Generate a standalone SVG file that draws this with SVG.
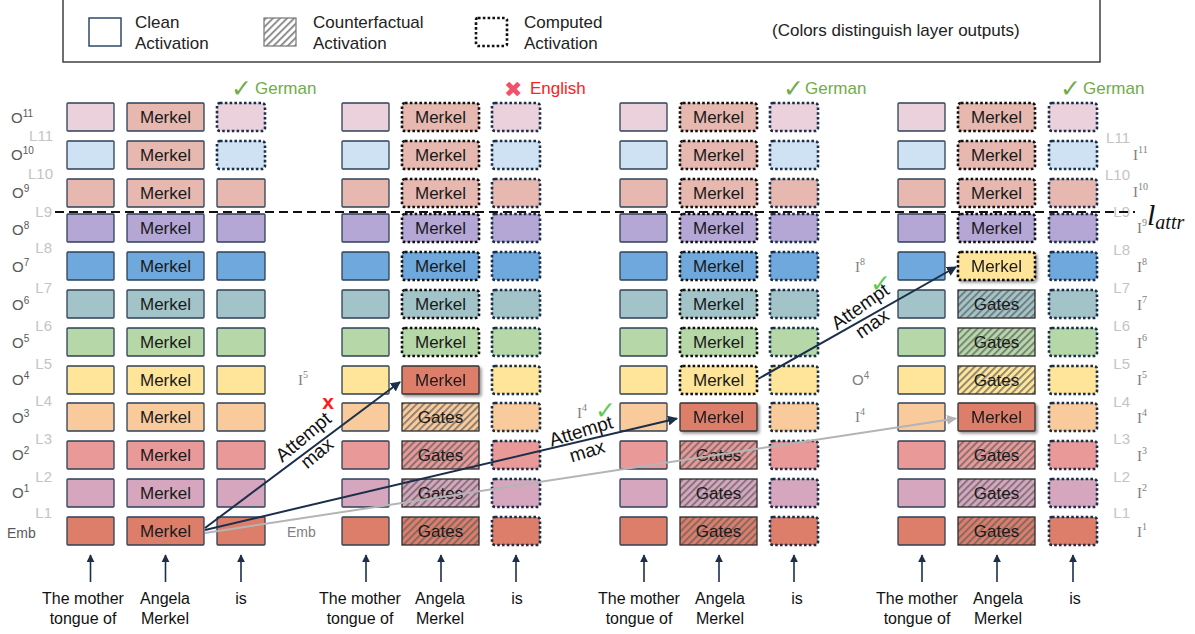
<svg xmlns="http://www.w3.org/2000/svg" width="1195" height="634" viewBox="0 0 1195 634">
<defs>
<style>
text{font-family:"Liberation Sans",Arial,sans-serif}
.cl{stroke:#2e4057;stroke-width:1.3}
.dn{stroke:#1b2f4a;stroke-width:2.6;stroke-dasharray:2.6 2.2}
.dk{stroke:#111;stroke-width:2.6;stroke-dasharray:2.6 2.2}
.hb{fill:url(#hatch);stroke:#2b2b2b;stroke-width:1.3}
.pt{stroke:#333;stroke-width:1.3}
.sh{filter:url(#sh)}
.f0{fill:#ead1dc}.f1{fill:#cfe2f3}.f2{fill:#e6b8af}.f3{fill:#b4a7d6}.f4{fill:#6fa8dc}.f5{fill:#a2c4c9}.f6{fill:#b6d7a8}.f7{fill:#ffe599}.f8{fill:#f9cb9c}.f9{fill:#ea9999}.f10{fill:#d5a6bd}.f11{fill:#dd7e6b}
.m{font-size:17px;fill:#1a1a1a;text-anchor:middle}
.ol{font-size:15px;fill:#595959}
.ll{font-size:15px;fill:#c4c4c4;text-anchor:end}
.il{font-family:"Liberation Serif","Times New Roman",serif;font-size:15px;fill:#808080}
.sup{font-size:10px}
.bl{font-size:16px;fill:#111;text-anchor:middle}
.lg{font-size:17px;fill:#222}
.at{font-size:19px;fill:#111;text-anchor:middle}
.nv{stroke:#1b2f4a;stroke-width:2;fill:none}
.gr{stroke:#b4b4b4;stroke-width:2;fill:none}
.up{stroke:#1b2f4a;stroke-width:1.6;fill:none}
.ck{font-family:"DejaVu Sans",sans-serif;font-size:25px}
</style>
<pattern id="hatch" width="5" height="5" patternUnits="userSpaceOnUse" patternTransform="rotate(45)">
<rect width="1.8" height="5" fill="#5f5f5f" opacity="0.75"/>
</pattern>
<filter id="sh" x="-20%" y="-30%" width="150%" height="170%">
<feDropShadow dx="2" dy="2" stdDeviation="1.6" flood-color="#000" flood-opacity="0.4"/>
</filter>
<marker id="an" viewBox="0 0 10 10" refX="9" refY="5" markerWidth="5" markerHeight="5" orient="auto"><path d="M0,0 L10,5 L0,10 z" fill="#1b2f4a"/></marker>
<marker id="ag" viewBox="0 0 10 10" refX="9" refY="5" markerWidth="5" markerHeight="5" orient="auto"><path d="M0,0 L10,5 L0,10 z" fill="#b4b4b4"/></marker>
</defs>
<rect width="1195" height="634" fill="#fff"/>

<g id="legend">
<rect x="63" y="-2" width="1037" height="64" fill="#fff" stroke="#404040" stroke-width="1.5"/>
<rect x="89" y="18" width="32" height="28" fill="#fff" stroke="#2e4a6a" stroke-width="1.5"/>
<text class="lg" x="135" y="28">Clean</text>
<text class="lg" x="135" y="49">Activation</text>
<rect x="264" y="18" width="32" height="28" fill="url(#hatch)" stroke="#7f7f7f" stroke-width="1.3"/>
<text class="lg" x="313" y="28">Counterfactual</text>
<text class="lg" x="313" y="49">Activation</text>
<rect x="476" y="18" width="31" height="28" rx="2" fill="#fff" class="dk"/>
<text class="lg" x="524" y="28">Computed</text>
<text class="lg" x="524" y="49">Activation</text>
<text class="lg" x="772" y="36">(Colors distinguish layer outputs)</text>
</g>

<g id="labels-left">
<text class="ol" x="11" y="123">O<tspan class="sup" dy="-6">11</tspan></text>
<text class="ol" x="11" y="160">O<tspan class="sup" dy="-6">10</tspan></text>
<text class="ol" x="12" y="198">O<tspan class="sup" dy="-6">9</tspan></text>
<text class="ol" x="12" y="235">O<tspan class="sup" dy="-6">8</tspan></text>
<text class="ol" x="12" y="272">O<tspan class="sup" dy="-6">7</tspan></text>
<text class="ol" x="12" y="310">O<tspan class="sup" dy="-6">6</tspan></text>
<text class="ol" x="12" y="348">O<tspan class="sup" dy="-6">5</tspan></text>
<text class="ol" x="12" y="385">O<tspan class="sup" dy="-6">4</tspan></text>
<text class="ol" x="12" y="423">O<tspan class="sup" dy="-6">3</tspan></text>
<text class="ol" x="12" y="460">O<tspan class="sup" dy="-6">2</tspan></text>
<text class="ol" x="12" y="498">O<tspan class="sup" dy="-6">1</tspan></text>
<text class="ol" x="7" y="538" style="font-size:14px">Emb</text>
<text class="ll" x="53" y="141">L11</text>
<text class="ll" x="53" y="179">L10</text>
<text class="ll" x="52" y="217">L9</text>
<text class="ll" x="52" y="253">L8</text>
<text class="ll" x="52" y="293">L7</text>
<text class="ll" x="52" y="331">L6</text>
<text class="ll" x="52" y="369">L5</text>
<text class="ll" x="52" y="406">L4</text>
<text class="ll" x="52" y="444">L3</text>
<text class="ll" x="52" y="482">L2</text>
<text class="ll" x="52" y="518">L1</text>
</g>

<g id="labels-right">
<text class="ll" x="1130" y="143">L11</text>
<text class="ll" x="1130" y="180">L10</text>
<text class="ll" x="1130" y="217">L9</text>
<text class="ll" x="1130" y="255">L8</text>
<text class="ll" x="1130" y="293">L7</text>
<text class="ll" x="1130" y="331">L6</text>
<text class="ll" x="1130" y="369">L5</text>
<text class="ll" x="1130" y="407">L4</text>
<text class="ll" x="1130" y="444">L3</text>
<text class="ll" x="1130" y="482">L2</text>
<text class="ll" x="1130" y="518">L1</text>
<text class="il" x="1133" y="160">I<tspan class="sup" dy="-7">11</tspan></text>
<text class="il" x="1133" y="197">I<tspan class="sup" dy="-7">10</tspan></text>
<text class="il" x="1137" y="233">I<tspan class="sup" dy="-7">9</tspan></text>
<text class="il" x="1137" y="272">I<tspan class="sup" dy="-7">8</tspan></text>
<text class="il" x="1137" y="310">I<tspan class="sup" dy="-7">7</tspan></text>
<text class="il" x="1137" y="348">I<tspan class="sup" dy="-7">6</tspan></text>
<text class="il" x="1137" y="385">I<tspan class="sup" dy="-7">5</tspan></text>
<text class="il" x="1137" y="423">I<tspan class="sup" dy="-7">4</tspan></text>
<text class="il" x="1137" y="461">I<tspan class="sup" dy="-7">3</tspan></text>
<text class="il" x="1137" y="498">I<tspan class="sup" dy="-7">2</tspan></text>
<text class="il" x="1137" y="537">I<tspan class="sup" dy="-7">1</tspan></text>
<text x="1147" y="225" style="font-family:'Liberation Serif',serif;font-style:italic;font-size:30px;fill:#111">l<tspan style="font-size:20px" dy="4">attr</tspan></text>
</g>

<g id="labels-mid">
<text class="il" x="298" y="385">I<tspan class="sup" dy="-7">5</tspan></text>
<text class="ol" x="287" y="537" style="font-size:14px;fill:#808080">Emb</text>
<text class="il" x="577" y="418">I<tspan class="sup" dy="-7">4</tspan></text>
<text class="il" x="855" y="272">I<tspan class="sup" dy="-7">8</tspan></text>
<text class="ol" x="852" y="385" style="fill:#808080">O<tspan class="sup" dy="-6">4</tspan></text>
<text class="il" x="855" y="422">I<tspan class="sup" dy="-7">4</tspan></text>
<text x="328" y="409" style="font-size:21px;font-weight:bold;fill:#ff1a1a;text-anchor:middle">x</text>
<text class="ck" x="595" y="419" style="fill:#5ecb55">✓</text>
<text class="ck" x="870" y="292" style="fill:#5ecb55">✓</text>
</g>

<g id="headers">
<text class="ck" x="231" y="97" style="fill:#70ad47">✓</text>
<text x="255" y="94" style="font-size:17px;fill:#70ad47">German</text>
<text x="504" y="97" style="font-family:'DejaVu Sans',sans-serif;font-size:22px;fill:#f0506a">✖</text>
<text x="530" y="94" style="font-size:17px;fill:#ff2020">English</text>
<text class="ck" x="783" y="97" style="fill:#70ad47">✓</text>
<text x="805" y="94" style="font-size:17px;fill:#70ad47">German</text>
<text class="ck" x="1060" y="97" style="fill:#70ad47">✓</text>
<text x="1083" y="94" style="font-size:17px;fill:#70ad47">German</text>
</g>

<g id="panel1">
<g id="p1-c1-0"><rect class="f0 cl" x="67" y="103" width="47" height="28" rx="1"/></g>
<g id="p1-c1-1"><rect class="f1 cl" x="67" y="141" width="47" height="28" rx="1"/></g>
<g id="p1-c1-2"><rect class="f2 cl" x="67" y="179" width="47" height="28" rx="1"/></g>
<g id="p1-c1-3"><rect class="f3 cl" x="67" y="214" width="47" height="28" rx="1"/></g>
<g id="p1-c1-4"><rect class="f4 cl" x="67" y="252" width="47" height="28" rx="1"/></g>
<g id="p1-c1-5"><rect class="f5 cl" x="67" y="290" width="47" height="28" rx="1"/></g>
<g id="p1-c1-6"><rect class="f6 cl" x="67" y="328" width="47" height="28" rx="1"/></g>
<g id="p1-c1-7"><rect class="f7 cl" x="67" y="366" width="47" height="28" rx="1"/></g>
<g id="p1-c1-8"><rect class="f8 cl" x="67" y="403" width="47" height="28" rx="1"/></g>
<g id="p1-c1-9"><rect class="f9 cl" x="67" y="441" width="47" height="28" rx="1"/></g>
<g id="p1-c1-10"><rect class="f10 cl" x="67" y="479" width="47" height="28" rx="1"/></g>
<g id="p1-c1-11"><rect class="f11 cl" x="67" y="517" width="47" height="28" rx="1"/></g>
<g id="p1-c2-0"><rect class="f2 cl" x="127" y="103" width="77" height="28" rx="1"/><text class="m" x="165.5" y="123">Merkel</text></g>
<g id="p1-c2-1"><rect class="f2 cl" x="127" y="141" width="77" height="28" rx="1"/><text class="m" x="165.5" y="161">Merkel</text></g>
<g id="p1-c2-2"><rect class="f2 cl" x="127" y="179" width="77" height="28" rx="1"/><text class="m" x="165.5" y="199">Merkel</text></g>
<g id="p1-c2-3"><rect class="f3 cl" x="127" y="214" width="77" height="28" rx="1"/><text class="m" x="165.5" y="234">Merkel</text></g>
<g id="p1-c2-4"><rect class="f4 cl" x="127" y="252" width="77" height="28" rx="1"/><text class="m" x="165.5" y="272">Merkel</text></g>
<g id="p1-c2-5"><rect class="f5 cl" x="127" y="290" width="77" height="28" rx="1"/><text class="m" x="165.5" y="310">Merkel</text></g>
<g id="p1-c2-6"><rect class="f6 cl" x="127" y="328" width="77" height="28" rx="1"/><text class="m" x="165.5" y="348">Merkel</text></g>
<g id="p1-c2-7"><rect class="f7 cl" x="127" y="366" width="77" height="28" rx="1"/><text class="m" x="165.5" y="386">Merkel</text></g>
<g id="p1-c2-8"><rect class="f8 cl" x="127" y="403" width="77" height="28" rx="1"/><text class="m" x="165.5" y="423">Merkel</text></g>
<g id="p1-c2-9"><rect class="f9 cl" x="127" y="441" width="77" height="28" rx="1"/><text class="m" x="165.5" y="461">Merkel</text></g>
<g id="p1-c2-10"><rect class="f10 cl" x="127" y="479" width="77" height="28" rx="1"/><text class="m" x="165.5" y="499">Merkel</text></g>
<g id="p1-c2-11"><rect class="f11 cl" x="127" y="517" width="77" height="28" rx="1"/><text class="m" x="165.5" y="537">Merkel</text></g>
<g id="p1-c3-0"><rect class="f0 dn" x="217" y="103" width="48" height="28" rx="3"/></g>
<g id="p1-c3-1"><rect class="f1 dn" x="217" y="141" width="48" height="28" rx="3"/></g>
<g id="p1-c3-2"><rect class="f2 cl" x="217" y="179" width="48" height="28" rx="1"/></g>
<g id="p1-c3-3"><rect class="f3 cl" x="217" y="214" width="48" height="28" rx="1"/></g>
<g id="p1-c3-4"><rect class="f4 cl" x="217" y="252" width="48" height="28" rx="1"/></g>
<g id="p1-c3-5"><rect class="f5 cl" x="217" y="290" width="48" height="28" rx="1"/></g>
<g id="p1-c3-6"><rect class="f6 cl" x="217" y="328" width="48" height="28" rx="1"/></g>
<g id="p1-c3-7"><rect class="f7 cl" x="217" y="366" width="48" height="28" rx="1"/></g>
<g id="p1-c3-8"><rect class="f8 cl" x="217" y="403" width="48" height="28" rx="1"/></g>
<g id="p1-c3-9"><rect class="f9 cl" x="217" y="441" width="48" height="28" rx="1"/></g>
<g id="p1-c3-10"><rect class="f10 cl" x="217" y="479" width="48" height="28" rx="1"/></g>
<g id="p1-c3-11"><rect class="f11 cl" x="217" y="517" width="48" height="28" rx="1"/></g>
</g>

<g id="panel2" transform="translate(275,0)">
<g id="p2-c1-0"><rect class="f0 cl" x="67" y="103" width="47" height="28" rx="1"/></g>
<g id="p2-c1-1"><rect class="f1 cl" x="67" y="141" width="47" height="28" rx="1"/></g>
<g id="p2-c1-2"><rect class="f2 cl" x="67" y="179" width="47" height="28" rx="1"/></g>
<g id="p2-c1-3"><rect class="f3 cl" x="67" y="214" width="47" height="28" rx="1"/></g>
<g id="p2-c1-4"><rect class="f4 cl" x="67" y="252" width="47" height="28" rx="1"/></g>
<g id="p2-c1-5"><rect class="f5 cl" x="67" y="290" width="47" height="28" rx="1"/></g>
<g id="p2-c1-6"><rect class="f6 cl" x="67" y="328" width="47" height="28" rx="1"/></g>
<g id="p2-c1-7"><rect class="f7 cl" x="67" y="366" width="47" height="28" rx="1"/></g>
<g id="p2-c1-8"><rect class="f8 cl" x="67" y="403" width="47" height="28" rx="1"/></g>
<g id="p2-c1-9"><rect class="f9 cl" x="67" y="441" width="47" height="28" rx="1"/></g>
<g id="p2-c1-10"><rect class="f10 cl" x="67" y="479" width="47" height="28" rx="1"/></g>
<g id="p2-c1-11"><rect class="f11 cl" x="67" y="517" width="47" height="28" rx="1"/></g>
<g id="p2-c2-0"><rect class="f2 dk" x="127" y="103" width="77" height="28" rx="3"/><text class="m" x="165.5" y="123">Merkel</text></g>
<g id="p2-c2-1"><rect class="f2 dk" x="127" y="141" width="77" height="28" rx="3"/><text class="m" x="165.5" y="161">Merkel</text></g>
<g id="p2-c2-2"><rect class="f2 dk" x="127" y="179" width="77" height="28" rx="3"/><text class="m" x="165.5" y="199">Merkel</text></g>
<g id="p2-c2-3"><rect class="f3 dk" x="127" y="214" width="77" height="28" rx="3"/><text class="m" x="165.5" y="234">Merkel</text></g>
<g id="p2-c2-4"><rect class="f4 dk" x="127" y="252" width="77" height="28" rx="3"/><text class="m" x="165.5" y="272">Merkel</text></g>
<g id="p2-c2-5"><rect class="f5 dk" x="127" y="290" width="77" height="28" rx="3"/><text class="m" x="165.5" y="310">Merkel</text></g>
<g id="p2-c2-6"><rect class="f6 dk" x="127" y="328" width="77" height="28" rx="3"/><text class="m" x="165.5" y="348">Merkel</text></g>
<g id="p2-c2-7" class="sh"><rect class="f11 pt" x="127" y="366" width="77" height="28" rx="1"/><text class="m" x="165.5" y="386">Merkel</text></g>
<g id="p2-c2-8"><rect class="f8" x="127" y="403" width="77" height="28"/><rect class="hb" x="127" y="403" width="77" height="28"/><text class="m" x="165.5" y="423">Gates</text></g>
<g id="p2-c2-9"><rect class="f9" x="127" y="441" width="77" height="28"/><rect class="hb" x="127" y="441" width="77" height="28"/><text class="m" x="165.5" y="461">Gates</text></g>
<g id="p2-c2-10"><rect class="f10" x="127" y="479" width="77" height="28"/><rect class="hb" x="127" y="479" width="77" height="28"/><text class="m" x="165.5" y="499">Gates</text></g>
<g id="p2-c2-11"><rect class="f11" x="127" y="517" width="77" height="28"/><rect class="hb" x="127" y="517" width="77" height="28"/><text class="m" x="165.5" y="537">Gates</text></g>
<g id="p2-c3-0"><rect class="f0 dn" x="217" y="103" width="48" height="28" rx="3"/></g>
<g id="p2-c3-1"><rect class="f1 dn" x="217" y="141" width="48" height="28" rx="3"/></g>
<g id="p2-c3-2"><rect class="f2 dn" x="217" y="179" width="48" height="28" rx="3"/></g>
<g id="p2-c3-3"><rect class="f3 dn" x="217" y="214" width="48" height="28" rx="3"/></g>
<g id="p2-c3-4"><rect class="f4 dn" x="217" y="252" width="48" height="28" rx="3"/></g>
<g id="p2-c3-5"><rect class="f5 dn" x="217" y="290" width="48" height="28" rx="3"/></g>
<g id="p2-c3-6"><rect class="f6 dn" x="217" y="328" width="48" height="28" rx="3"/></g>
<g id="p2-c3-7"><rect class="f7 dn" x="217" y="366" width="48" height="28" rx="3"/></g>
<g id="p2-c3-8"><rect class="f8 dn" x="217" y="403" width="48" height="28" rx="3"/></g>
<g id="p2-c3-9"><rect class="f9 dn" x="217" y="441" width="48" height="28" rx="3"/></g>
<g id="p2-c3-10"><rect class="f10 dn" x="217" y="479" width="48" height="28" rx="3"/></g>
<g id="p2-c3-11"><rect class="f11 dn" x="217" y="517" width="48" height="28" rx="3"/></g>
</g>

<g id="panel3" transform="translate(553,0)">
<g id="p3-c1-0"><rect class="f0 cl" x="67" y="103" width="47" height="28" rx="1"/></g>
<g id="p3-c1-1"><rect class="f1 cl" x="67" y="141" width="47" height="28" rx="1"/></g>
<g id="p3-c1-2"><rect class="f2 cl" x="67" y="179" width="47" height="28" rx="1"/></g>
<g id="p3-c1-3"><rect class="f3 cl" x="67" y="214" width="47" height="28" rx="1"/></g>
<g id="p3-c1-4"><rect class="f4 cl" x="67" y="252" width="47" height="28" rx="1"/></g>
<g id="p3-c1-5"><rect class="f5 cl" x="67" y="290" width="47" height="28" rx="1"/></g>
<g id="p3-c1-6"><rect class="f6 cl" x="67" y="328" width="47" height="28" rx="1"/></g>
<g id="p3-c1-7"><rect class="f7 cl" x="67" y="366" width="47" height="28" rx="1"/></g>
<g id="p3-c1-8"><rect class="f8 cl" x="67" y="403" width="47" height="28" rx="1"/></g>
<g id="p3-c1-9"><rect class="f9 cl" x="67" y="441" width="47" height="28" rx="1"/></g>
<g id="p3-c1-10"><rect class="f10 cl" x="67" y="479" width="47" height="28" rx="1"/></g>
<g id="p3-c1-11"><rect class="f11 cl" x="67" y="517" width="47" height="28" rx="1"/></g>
<g id="p3-c2-0"><rect class="f2 dk" x="127" y="103" width="77" height="28" rx="3"/><text class="m" x="165.5" y="123">Merkel</text></g>
<g id="p3-c2-1"><rect class="f2 dk" x="127" y="141" width="77" height="28" rx="3"/><text class="m" x="165.5" y="161">Merkel</text></g>
<g id="p3-c2-2"><rect class="f2 dk" x="127" y="179" width="77" height="28" rx="3"/><text class="m" x="165.5" y="199">Merkel</text></g>
<g id="p3-c2-3"><rect class="f3 dk" x="127" y="214" width="77" height="28" rx="3"/><text class="m" x="165.5" y="234">Merkel</text></g>
<g id="p3-c2-4"><rect class="f4 dk" x="127" y="252" width="77" height="28" rx="3"/><text class="m" x="165.5" y="272">Merkel</text></g>
<g id="p3-c2-5"><rect class="f5 dk" x="127" y="290" width="77" height="28" rx="3"/><text class="m" x="165.5" y="310">Merkel</text></g>
<g id="p3-c2-6"><rect class="f6 dk" x="127" y="328" width="77" height="28" rx="3"/><text class="m" x="165.5" y="348">Merkel</text></g>
<g id="p3-c2-7"><rect class="f7 dk" x="127" y="366" width="77" height="28" rx="3"/><text class="m" x="165.5" y="386">Merkel</text></g>
<g id="p3-c2-8" class="sh"><rect class="f11 pt" x="127" y="403" width="77" height="28" rx="1"/><text class="m" x="165.5" y="423">Merkel</text></g>
<g id="p3-c2-9"><rect class="f9" x="127" y="441" width="77" height="28"/><rect class="hb" x="127" y="441" width="77" height="28"/><text class="m" x="165.5" y="461">Gates</text></g>
<g id="p3-c2-10"><rect class="f10" x="127" y="479" width="77" height="28"/><rect class="hb" x="127" y="479" width="77" height="28"/><text class="m" x="165.5" y="499">Gates</text></g>
<g id="p3-c2-11"><rect class="f11" x="127" y="517" width="77" height="28"/><rect class="hb" x="127" y="517" width="77" height="28"/><text class="m" x="165.5" y="537">Gates</text></g>
<g id="p3-c3-0"><rect class="f0 dn" x="217" y="103" width="48" height="28" rx="3"/></g>
<g id="p3-c3-1"><rect class="f1 dn" x="217" y="141" width="48" height="28" rx="3"/></g>
<g id="p3-c3-2"><rect class="f2 dn" x="217" y="179" width="48" height="28" rx="3"/></g>
<g id="p3-c3-3"><rect class="f3 dn" x="217" y="214" width="48" height="28" rx="3"/></g>
<g id="p3-c3-4"><rect class="f4 dn" x="217" y="252" width="48" height="28" rx="3"/></g>
<g id="p3-c3-5"><rect class="f5 dn" x="217" y="290" width="48" height="28" rx="3"/></g>
<g id="p3-c3-6"><rect class="f6 dn" x="217" y="328" width="48" height="28" rx="3"/></g>
<g id="p3-c3-7"><rect class="f7 dn" x="217" y="366" width="48" height="28" rx="3"/></g>
<g id="p3-c3-8"><rect class="f8 dn" x="217" y="403" width="48" height="28" rx="3"/></g>
<g id="p3-c3-9"><rect class="f9 dn" x="217" y="441" width="48" height="28" rx="3"/></g>
<g id="p3-c3-10"><rect class="f10 dn" x="217" y="479" width="48" height="28" rx="3"/></g>
<g id="p3-c3-11"><rect class="f11 dn" x="217" y="517" width="48" height="28" rx="3"/></g>
</g>

<g id="panel4" transform="translate(831,0)">
<g id="p4-c1-0"><rect class="f0 cl" x="67" y="103" width="47" height="28" rx="1"/></g>
<g id="p4-c1-1"><rect class="f1 cl" x="67" y="141" width="47" height="28" rx="1"/></g>
<g id="p4-c1-2"><rect class="f2 cl" x="67" y="179" width="47" height="28" rx="1"/></g>
<g id="p4-c1-3"><rect class="f3 cl" x="67" y="214" width="47" height="28" rx="1"/></g>
<g id="p4-c1-4"><rect class="f4 cl" x="67" y="252" width="47" height="28" rx="1"/></g>
<g id="p4-c1-5"><rect class="f5 cl" x="67" y="290" width="47" height="28" rx="1"/></g>
<g id="p4-c1-6"><rect class="f6 cl" x="67" y="328" width="47" height="28" rx="1"/></g>
<g id="p4-c1-7"><rect class="f7 cl" x="67" y="366" width="47" height="28" rx="1"/></g>
<g id="p4-c1-8"><rect class="f8 cl" x="67" y="403" width="47" height="28" rx="1"/></g>
<g id="p4-c1-9"><rect class="f9 cl" x="67" y="441" width="47" height="28" rx="1"/></g>
<g id="p4-c1-10"><rect class="f10 cl" x="67" y="479" width="47" height="28" rx="1"/></g>
<g id="p4-c1-11"><rect class="f11 cl" x="67" y="517" width="47" height="28" rx="1"/></g>
<g id="p4-c2-0"><rect class="f2 dk" x="127" y="103" width="77" height="28" rx="3"/><text class="m" x="165.5" y="123">Merkel</text></g>
<g id="p4-c2-1"><rect class="f2 dk" x="127" y="141" width="77" height="28" rx="3"/><text class="m" x="165.5" y="161">Merkel</text></g>
<g id="p4-c2-2"><rect class="f2 dk" x="127" y="179" width="77" height="28" rx="3"/><text class="m" x="165.5" y="199">Merkel</text></g>
<g id="p4-c2-3"><rect class="f3 dk" x="127" y="214" width="77" height="28" rx="3"/><text class="m" x="165.5" y="234">Merkel</text></g>
<g id="p4-c2-4" class="sh"><rect class="f7 dk" x="127" y="252" width="77" height="28" rx="3"/><text class="m" x="165.5" y="272">Merkel</text></g>
<g id="p4-c2-5"><rect class="f5" x="127" y="290" width="77" height="28"/><rect class="hb" x="127" y="290" width="77" height="28"/><text class="m" x="165.5" y="310">Gates</text></g>
<g id="p4-c2-6"><rect class="f6" x="127" y="328" width="77" height="28"/><rect class="hb" x="127" y="328" width="77" height="28"/><text class="m" x="165.5" y="348">Gates</text></g>
<g id="p4-c2-7"><rect class="f7" x="127" y="366" width="77" height="28"/><rect class="hb" x="127" y="366" width="77" height="28"/><text class="m" x="165.5" y="386">Gates</text></g>
<g id="p4-c2-8" class="sh"><rect class="f11 pt" x="127" y="403" width="77" height="28" rx="1"/><text class="m" x="165.5" y="423">Merkel</text></g>
<g id="p4-c2-9"><rect class="f9" x="127" y="441" width="77" height="28"/><rect class="hb" x="127" y="441" width="77" height="28"/><text class="m" x="165.5" y="461">Gates</text></g>
<g id="p4-c2-10"><rect class="f10" x="127" y="479" width="77" height="28"/><rect class="hb" x="127" y="479" width="77" height="28"/><text class="m" x="165.5" y="499">Gates</text></g>
<g id="p4-c2-11"><rect class="f11" x="127" y="517" width="77" height="28"/><rect class="hb" x="127" y="517" width="77" height="28"/><text class="m" x="165.5" y="537">Gates</text></g>
<g id="p4-c3-0"><rect class="f0 dn" x="218" y="103" width="48" height="28" rx="3"/></g>
<g id="p4-c3-1"><rect class="f1 dn" x="218" y="141" width="48" height="28" rx="3"/></g>
<g id="p4-c3-2"><rect class="f2 dn" x="218" y="179" width="48" height="28" rx="3"/></g>
<g id="p4-c3-3"><rect class="f3 dn" x="218" y="214" width="48" height="28" rx="3"/></g>
<g id="p4-c3-4"><rect class="f4 dn" x="218" y="252" width="48" height="28" rx="3"/></g>
<g id="p4-c3-5"><rect class="f5 dn" x="218" y="290" width="48" height="28" rx="3"/></g>
<g id="p4-c3-6"><rect class="f6 dn" x="218" y="328" width="48" height="28" rx="3"/></g>
<g id="p4-c3-7"><rect class="f7 dn" x="218" y="366" width="48" height="28" rx="3"/></g>
<g id="p4-c3-8"><rect class="f8 dn" x="218" y="403" width="48" height="28" rx="3"/></g>
<g id="p4-c3-9"><rect class="f9 dn" x="218" y="441" width="48" height="28" rx="3"/></g>
<g id="p4-c3-10"><rect class="f10 dn" x="218" y="479" width="48" height="28" rx="3"/></g>
<g id="p4-c3-11"><rect class="f11 dn" x="218" y="517" width="48" height="28" rx="3"/></g>
</g>

<g id="attr-line">
<line x1="55" y1="212" x2="1135" y2="212" stroke="#111" stroke-width="2" stroke-dasharray="9 5"/>
</g>

<g id="connectors">
<line class="gr" x1="205" y1="533" x2="956" y2="418.5" marker-end="url(#ag)"/>
<line class="nv" x1="205" y1="528" x2="400" y2="382" marker-end="url(#an)"/>
<line class="nv" x1="205" y1="530" x2="677" y2="418.5" marker-end="url(#an)"/>
<line class="nv" x1="758" y1="379" x2="956" y2="267" marker-end="url(#an)"/>
<line class="up" x1="90.5" y1="582" x2="90.5" y2="555" marker-end="url(#an)"/>
<line class="up" x1="165.5" y1="582" x2="165.5" y2="555" marker-end="url(#an)"/>
<line class="up" x1="241" y1="582" x2="241" y2="555" marker-end="url(#an)"/>
<line class="up" x1="366" y1="582" x2="366" y2="555" marker-end="url(#an)"/>
<line class="up" x1="441" y1="582" x2="441" y2="555" marker-end="url(#an)"/>
<line class="up" x1="516" y1="582" x2="516" y2="555" marker-end="url(#an)"/>
<line class="up" x1="644" y1="582" x2="644" y2="555" marker-end="url(#an)"/>
<line class="up" x1="719" y1="582" x2="719" y2="555" marker-end="url(#an)"/>
<line class="up" x1="794" y1="582" x2="794" y2="555" marker-end="url(#an)"/>
<line class="up" x1="922" y1="582" x2="922" y2="555" marker-end="url(#an)"/>
<line class="up" x1="997" y1="582" x2="997" y2="555" marker-end="url(#an)"/>
<line class="up" x1="1073" y1="582" x2="1073" y2="555" marker-end="url(#an)"/>
<g transform="translate(310,445) rotate(-40)"><text class="at" x="0" y="-4">Attempt</text><text class="at" x="0" y="17">max</text></g>
<g transform="translate(584,441) rotate(-17)"><text class="at" x="0" y="-4">Attempt</text><text class="at" x="0" y="17">max</text></g>
<g transform="translate(866,315) rotate(-35)"><text class="at" x="0" y="-4">Attempt</text><text class="at" x="0" y="17">max</text></g>
</g>

<g id="inputs">
<text class="bl" x="83" y="604">The mother</text><text class="bl" x="83" y="624">tongue of</text>
<text class="bl" x="165" y="604">Angela</text><text class="bl" x="165" y="624">Merkel</text>
<text class="bl" x="241" y="604">is</text>
<text class="bl" x="360" y="604">The mother</text><text class="bl" x="360" y="624">tongue of</text>
<text class="bl" x="440" y="604">Angela</text><text class="bl" x="440" y="624">Merkel</text>
<text class="bl" x="517" y="604">is</text>
<text class="bl" x="639" y="604">The mother</text><text class="bl" x="639" y="624">tongue of</text>
<text class="bl" x="720" y="604">Angela</text><text class="bl" x="720" y="624">Merkel</text>
<text class="bl" x="797" y="604">is</text>
<text class="bl" x="917" y="604">The mother</text><text class="bl" x="917" y="624">tongue of</text>
<text class="bl" x="998" y="604">Angela</text><text class="bl" x="998" y="624">Merkel</text>
<text class="bl" x="1075" y="604">is</text>
</g>
</svg>
